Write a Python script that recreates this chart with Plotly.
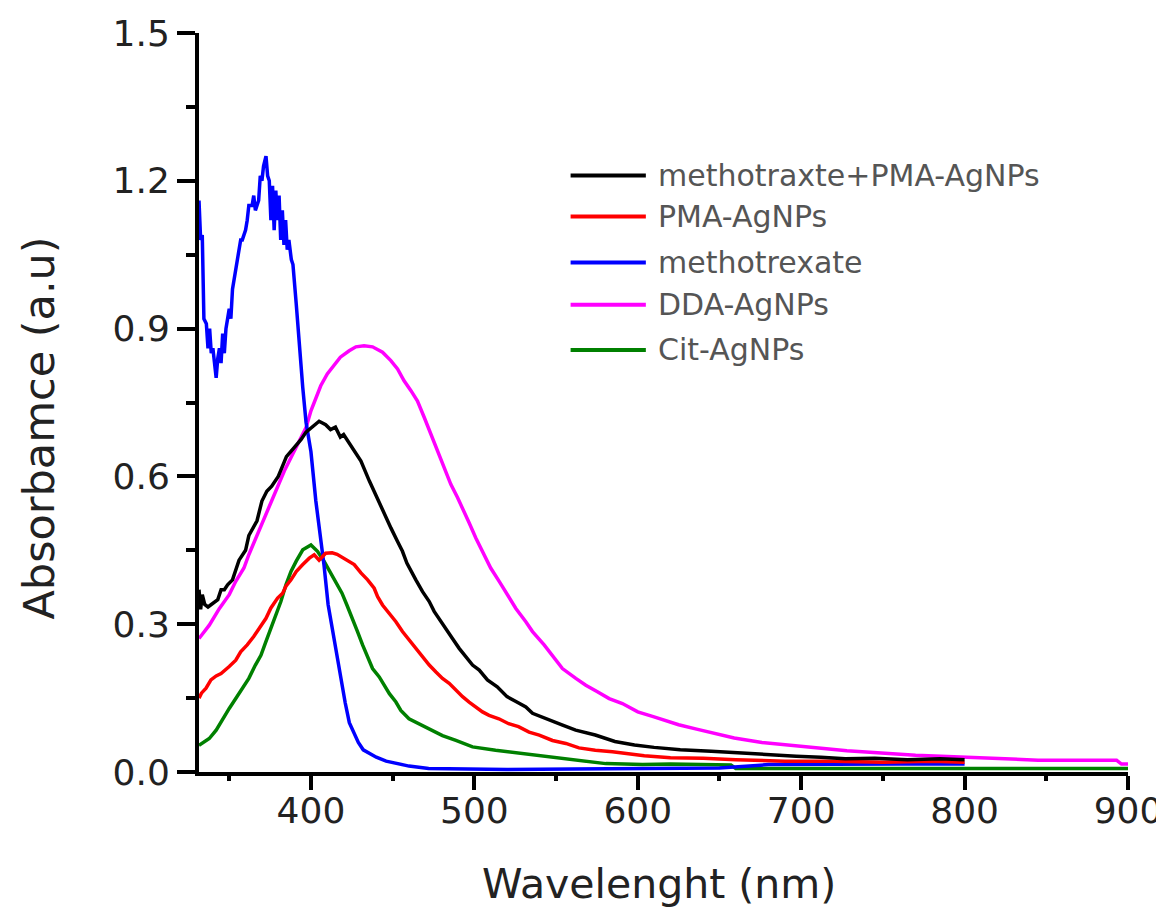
import plotly.graph_objects as go

# wavelength (nm) / absorbance (a.u.)
mtx_pma_x = [331.5, 332.5, 333.5, 335, 337, 339, 341, 343, 345, 347, 349, 352, 356, 360, 362,
             365, 367, 370, 373, 376, 380, 385, 390, 394, 397, 401, 405, 409, 412, 415, 418,
             420, 423, 425.5, 428, 430.6, 435.7, 440.8, 445.9, 449, 453, 456, 458.7, 461.2,
             464.2, 468.3, 472.4, 475.4, 479.5, 483.6, 486.6, 490.7, 494.8, 498.9, 503, 508,
             514, 520, 526, 531.5, 535.6, 545.8, 554, 562, 574, 586, 598, 610, 626, 645, 663,
             680, 697, 712, 727, 745, 765, 785, 800]
mtx_pma_y = [0.37, 0.33, 0.36, 0.34, 0.335, 0.34, 0.345, 0.35, 0.37, 0.37, 0.38, 0.39, 0.43,
             0.45, 0.48, 0.50, 0.51, 0.55, 0.57, 0.58, 0.60, 0.64, 0.66, 0.675, 0.69, 0.70,
             0.712, 0.705, 0.695, 0.70, 0.68, 0.685, 0.67, 0.655, 0.645, 0.631, 0.591, 0.553,
             0.519, 0.495, 0.468, 0.448, 0.424, 0.407, 0.39, 0.366, 0.346, 0.326, 0.305, 0.285,
             0.271, 0.251, 0.234, 0.217, 0.207, 0.187, 0.173, 0.153, 0.142, 0.132, 0.119, 0.105,
             0.095, 0.085, 0.075, 0.062, 0.055, 0.05, 0.045, 0.042, 0.038, 0.035, 0.032, 0.03,
             0.027, 0.028, 0.025, 0.027, 0.025]

pma_x = [331.5, 333, 335.8, 338.8, 342, 345, 350, 354, 357, 361, 365, 369, 372.5, 375.5, 379.6,
         382.7, 384.7, 387.8, 391, 395, 399, 402, 405, 409, 413, 416, 421.4, 426.5, 430.6,
         434.7, 438.7, 440.8, 443.8, 448, 452, 456, 460, 464, 468, 472.4, 476.5, 480.5, 484.6,
         488.7, 492.8, 496.8, 500.9, 505, 509, 515, 521, 527, 533.5, 539.7, 547.8, 556, 564,
         574, 584.5, 594.7, 604, 620, 640, 660, 673, 690, 720, 750, 780, 800]
pma_y = [0.15, 0.16, 0.17, 0.187, 0.195, 0.20, 0.214, 0.227, 0.244, 0.258, 0.275, 0.295, 0.312,
         0.333, 0.353, 0.363, 0.377, 0.39, 0.407, 0.421, 0.434, 0.441, 0.43, 0.444, 0.445,
         0.442, 0.431, 0.421, 0.404, 0.39, 0.373, 0.356, 0.339, 0.322, 0.305, 0.285, 0.268,
         0.251, 0.234, 0.217, 0.203, 0.19, 0.18, 0.166, 0.153, 0.142, 0.132, 0.122, 0.115,
         0.108, 0.098, 0.092, 0.081, 0.075, 0.064, 0.058, 0.049, 0.044, 0.041, 0.036, 0.033,
         0.029, 0.028, 0.025, 0.024, 0.022, 0.022, 0.02, 0.022, 0.02]

mtx_x = [331.5, 332.5, 333.5, 334.5, 336, 337, 338, 339, 340, 341, 342, 343, 344, 345, 346,
         347, 348, 350, 351, 352, 354, 356, 357, 358, 360, 361, 362, 364, 365, 366, 368, 369,
         370, 371, 372.5, 373.5, 374.5, 375.5, 376.5, 377.5, 378.5, 379.5, 380.5, 381.5,
         382.5, 383.5, 384.5, 385.5, 386.5, 388, 389, 391, 393, 395, 397, 400, 403, 405.5,
         408, 410.5, 413, 415.5, 418, 421, 423.5, 426, 429, 432, 436, 440, 446, 452, 460,
         472, 490, 520, 560, 600, 650, 680, 720, 760, 800]
mtx_y = [1.16, 1.08, 1.09, 0.92, 0.91, 0.86, 0.90, 0.85, 0.86, 0.82, 0.80, 0.84, 0.86, 0.83,
         0.89, 0.85, 0.90, 0.94, 0.92, 0.98, 1.02, 1.05, 1.08, 1.08, 1.10, 1.12, 1.15, 1.15,
         1.17, 1.14, 1.16, 1.21, 1.20, 1.23, 1.25, 1.21, 1.20, 1.12, 1.19, 1.10, 1.18, 1.12,
         1.17, 1.08, 1.14, 1.07, 1.12, 1.06, 1.08, 1.04, 1.03, 0.95, 0.86, 0.78, 0.71, 0.65,
         0.55, 0.49, 0.42, 0.34, 0.29, 0.245, 0.19, 0.14, 0.10, 0.08, 0.06, 0.045, 0.037,
         0.03, 0.022, 0.017, 0.012, 0.007, 0.006, 0.005, 0.006, 0.007, 0.008, 0.015, 0.016,
         0.016, 0.016]

dda_x = [331.5, 337.8, 344, 350, 354, 359, 362, 366, 370, 374.5, 379.6, 383.7, 388.8, 392.9,
         397, 400, 403, 406, 410, 414, 418, 423.4, 427.5, 432.5, 437.7, 443.8, 448.9, 453,
         457, 461.2, 465.2, 469.3, 473.4, 476.5, 481.5, 485.6, 489.7, 492.8, 496.8, 500.9,
         506, 510, 515.2, 520.3, 525.4, 531.5, 535.6, 542.7, 548.8, 553.9, 562.1, 568.2,
         575.3, 582.5, 590.6, 600, 609, 617, 625, 636, 648, 659, 676, 699, 728, 770, 845,
         893, 896, 900]
dda_y = [0.271, 0.298, 0.332, 0.36, 0.387, 0.414, 0.441, 0.472, 0.502, 0.536, 0.577, 0.611,
         0.645, 0.672, 0.699, 0.733, 0.76, 0.784, 0.808, 0.825, 0.842, 0.855, 0.863, 0.865,
         0.863, 0.852, 0.835, 0.818, 0.794, 0.774, 0.753, 0.72, 0.686, 0.658, 0.618, 0.584,
         0.557, 0.533, 0.506, 0.475, 0.441, 0.414, 0.387, 0.36, 0.332, 0.305, 0.285, 0.258,
         0.231, 0.21, 0.19, 0.176, 0.163, 0.149, 0.139, 0.122, 0.113, 0.105, 0.096, 0.087,
         0.078, 0.069, 0.06, 0.052, 0.043, 0.034, 0.024, 0.024, 0.016, 0.016]

cit_x = [331.5, 337.8, 342, 346, 350, 354, 358, 362, 366, 369.4, 372.5, 375.5, 378.6, 381.6,
         384.7, 387.8, 391, 395, 400, 404, 408, 411, 415, 419, 422, 425.5, 428.5, 431.6,
         434.7, 437.7, 441.8, 444.9, 448, 452, 455, 460, 466.3, 472.4, 480.5, 488.7, 498.9,
         513, 529.5, 554, 580.4, 603, 620, 657, 660, 900]
cit_y = [0.054, 0.068, 0.085, 0.108, 0.129, 0.149, 0.17, 0.19, 0.217, 0.237, 0.265, 0.292,
         0.319, 0.346, 0.38, 0.407, 0.428, 0.451, 0.461, 0.448, 0.428, 0.411, 0.387, 0.363,
         0.339, 0.312, 0.285, 0.258, 0.234, 0.21, 0.193, 0.176, 0.159, 0.142, 0.125, 0.108,
         0.098, 0.088, 0.074, 0.064, 0.051, 0.044, 0.037, 0.027, 0.017, 0.015, 0.016, 0.014,
         0.007, 0.007]

series_names = ["methotraxte+PMA-AgNPs", "PMA-AgNPs", "methotrexate", "DDA-AgNPs", "Cit-AgNPs"]
series_colors = ["#000000", "#ff0000", "#0000ff", "#ff00ff", "#008000"]
series_x = [mtx_pma_x, pma_x, mtx_x, dda_x, cit_x]
series_y = [mtx_pma_y, pma_y, mtx_y, dda_y, cit_y]

# drawing order so black/red sit on top of the tails like the reference
draw_order = [3, 4, 2, 1, 0]

# hand-drawn legend: row heights in paper coords
legend_rows = [0.8073, 0.7517, 0.6893, 0.6323, 0.5712]

fig = go.Figure()
for i in draw_order:
    fig.add_trace(
        go.Scatter(
            x=series_x[i],
            y=series_y[i],
            mode="lines",
            line=dict(color=series_colors[i], width=3.5),
            name=series_names[i],
        )
    )

for name, color, yy in zip(series_names, series_colors, legend_rows):
    fig.add_shape(
        type="line", xref="paper", yref="paper",
        x0=0.400, x1=0.481, y0=yy, y1=yy,
        line=dict(color=color, width=4),
    )
    fig.add_annotation(
        xref="paper", yref="paper", x=0.492, y=yy,
        text=name, showarrow=False, xanchor="left", yanchor="middle",
        font=dict(family="DejaVu Sans", size=30, color="#555555"),
    )

axis_font = dict(family="DejaVu Sans", size=36, color="#222222")
title_font = dict(family="DejaVu Sans", size=41, color="#222222")

# axis titles placed by hand (paper coords)
fig.add_annotation(
    xref="paper", yref="paper", x=0.495, y=-0.152,
    text="Wavelenght (nm)", showarrow=False,
    xanchor="center", yanchor="middle", font=title_font,
)
fig.add_annotation(
    xref="paper", yref="paper", x=-0.172, y=0.465,
    text="Absorbamce (a.u)", showarrow=False, textangle=-90,
    xanchor="center", yanchor="middle", font=dict(title_font, size=43),
)

fig.update_xaxes(
    range=[331.5, 900],
    tick0=0, dtick=100,
    ticks="outside", ticklen=14, tickwidth=4, tickcolor="black",
    minor=dict(dtick=50, ticks="outside", ticklen=5, tickwidth=4, tickcolor="black"),
    showline=True, linewidth=4, linecolor="black",
    showgrid=False, zeroline=False, automargin=False,
    ticklabeloverflow="allow", ticklabelstandoff=-10,
    tickfont=axis_font,
)
fig.update_yaxes(
    range=[0, 1.5],
    tick0=0, dtick=0.3, tickformat=".1f",
    ticks="outside", ticklen=18, tickwidth=4, tickcolor="black",
    minor=dict(dtick=0.15, ticks="outside", ticklen=9, tickwidth=4, tickcolor="black"),
    showline=True, linewidth=4, linecolor="black",
    showgrid=False, zeroline=False, automargin=False,
    tickfont=axis_font,
)

# page body adds an 8px offset, so the figure is 8px smaller than the window
fig.update_layout(
    width=1156,
    height=904,
    margin=dict(l=191, r=36, t=25, b=140),
    paper_bgcolor="white",
    plot_bgcolor="white",
    showlegend=False,
)

fig.write_html("out.html")
